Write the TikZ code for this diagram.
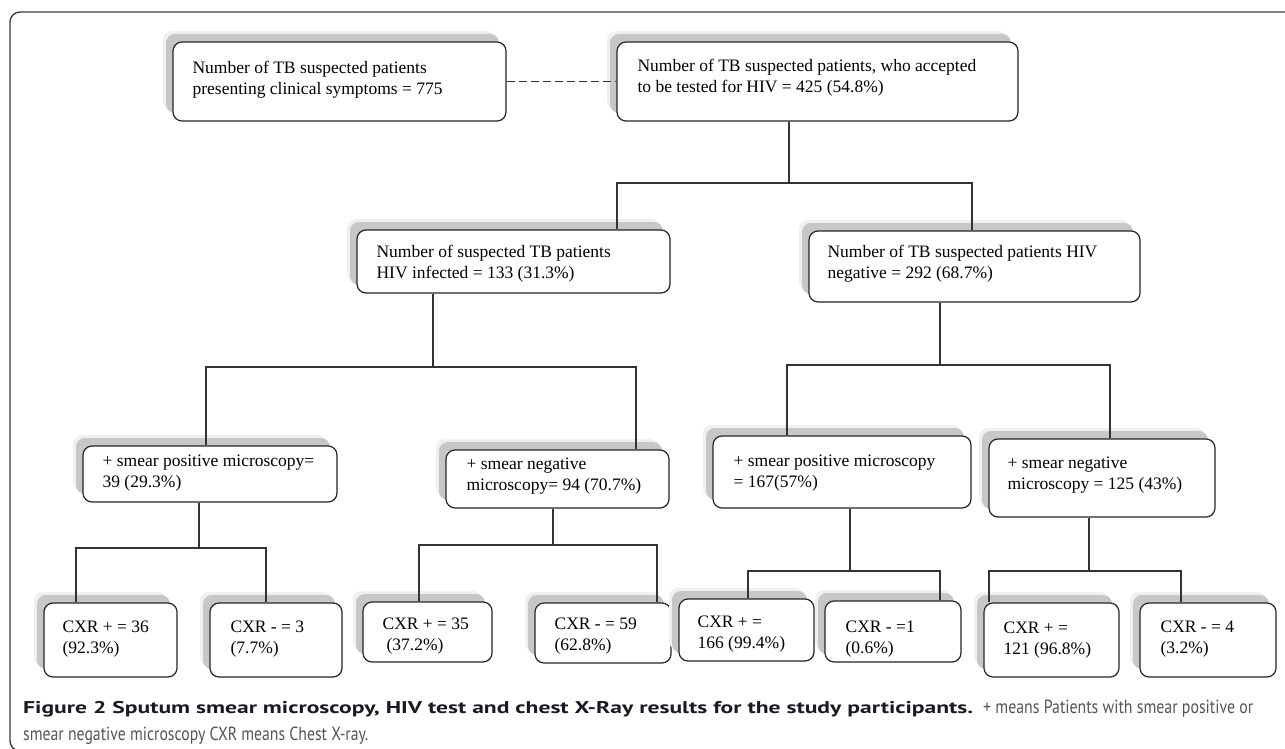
\documentclass[tikz,border=0pt]{standalone}
\usepackage{fontspec}
\setmainfont{Liberation Serif}
\newfontfamily\capfont{PT Sans}
\usepackage{graphicx}
\usetikzlibrary{shadows}
\definecolor{capbold}{RGB}{25,25,35}
\definecolor{capreg}{RGB}{85,85,85}
\definecolor{frame}{RGB}{60,60,60}
\tikzset{
  box/.style={draw=black!85, line width=1.2pt, rounded corners=9pt, fill=white, inner sep=0pt,
    general shadow={fill=black!6, shadow xshift=-10pt, shadow yshift=11pt},
    general shadow={fill=black!22, shadow xshift=-7pt, shadow yshift=8pt}},
  txt/.style={inner sep=0pt, anchor=base west, font=\fontsize{17.5}{21}\selectfont},
  conn/.style={draw=black!80, line width=1.1pt},
}
\newcommand{\mkbox}[5]{\node[box, minimum width={#4-#2}, minimum height={#5-#3}] (#1) at ({(#2+#4)/2},{(#3+#5)/2}) {};}
\newcommand{\mktxt}[5]{\node[txt] (#1t) at ([shift={(#2,#3)}]#1.north west) {\begin{tabular}[t]{@{}l@{}}#4\\#5\end{tabular}};}
\begin{document}
\begin{tikzpicture}[x=1pt,y=-1pt]
\useasboundingbox (0,0) rectangle (1285,749);
% outer frame
\draw[frame, line width=1.4pt, rounded corners=10pt] (1295,12) -- (10,12) -- (10,751) -- (60,751);

% boxes
\mkbox{A}{173}{42}{506}{121}
\mkbox{B}{617}{42}{1018}{121}
\mkbox{C}{357}{230}{670}{293}
\mkbox{D}{809}{231}{1140}{302}
\mkbox{E}{83}{446}{337}{502}
\mkbox{F}{446}{450}{669}{508}
\mkbox{G}{713}{436}{971}{508}
\mkbox{H}{989}{439}{1215}{517}
\mkbox{X1}{44}{603}{177}{677}
\mkbox{X2}{210}{603}{342}{677}
\mkbox{X3}{363}{602}{492}{662}
\mkbox{X4}{535}{603}{671}{663}
\mkbox{X5}{679}{599}{814}{661}
\mkbox{X6}{825}{601}{961}{662}
\mkbox{X7}{984}{603}{1119}{677}
\mkbox{X8}{1140}{603}{1276}{677}

% texts
\mktxt{A}{20}{32}{Number of TB suspected patients}{presenting clinical symptoms = 775}
\mktxt{B}{21}{30}{Number of TB suspected patients, who accepted}{to be tested for HIV = 425 (54.8\%)}
\mktxt{C}{20}{28}{Number of suspected TB patients}{HIV infected = 133 (31.3\%)}
\mktxt{D}{19}{27}{Number of TB suspected patients HIV}{negative = 292 (68.7\%)}
\mktxt{E}{20}{21}{+ smear positive microscopy=}{39 (29.3\%)}
\mktxt{F}{21}{20}{+ smear negative}{microscopy= 94 (70.7\%)}
\mktxt{G}{21}{31}{+ smear positive microscopy}{= 167(57\%)}
\mktxt{H}{19}{30}{+ smear negative}{microscopy = 125 (43\%)}
\mktxt{X1}{19}{30}{CXR + = 36}{(92.3\%)}
\mktxt{X2}{21}{30}{CXR - = 3}{(7.7\%)}
\mktxt{X3}{20}{28}{CXR + = 35}{\hspace{4pt}(37.2\%)}
\mktxt{X4}{20}{27}{CXR - = 59}{(62.8\%)}
\mktxt{X5}{19}{29}{CXR + =}{166 (99.4\%)}
\mktxt{X6}{21}{32}{CXR - =1}{(0.6\%)}
\mktxt{X7}{20}{31}{CXR + =}{121 (96.8\%)}
\mktxt{X8}{21}{30}{CXR - = 4}{(3.2\%)}

% connectors
\draw[conn, dash pattern=on 8pt off 4pt] (A.east) -- (B.west);

\coordinate (jB) at (789,183); \coordinate (lC) at (617,183); \coordinate (rD) at (972,183);
\draw[conn] (B.south -| jB) -- (jB);
\draw[conn] (C.north -| lC) |- (rD) -- (D.north -| rD);

\coordinate (jC) at (433,367); \coordinate (lE) at (206,367); \coordinate (rF) at (636,367);
\draw[conn] (C.south -| jC) -- (jC);
\draw[conn] (E.north -| lE) |- (rF) -- (F.north -| rF);

\coordinate (jD) at (940,365); \coordinate (lG) at (787,365); \coordinate (rH) at (1110,365);
\draw[conn] (D.south -| jD) -- (jD);
\draw[conn] (G.north -| lG) |- (rH) -- (H.north -| rH);

\coordinate (jE) at (199,548); \coordinate (l1) at (76,548); \coordinate (r2) at (266,548);
\draw[conn] (E.south -| jE) -- (jE);
\draw[conn] (X1.north -| l1) |- (r2) -- (X2.north -| r2);

\coordinate (jF) at (553,545); \coordinate (l3) at (419,545); \coordinate (r4) at (657,545);
\draw[conn] (F.south -| jF) -- (jF);
\draw[conn] (X3.north -| l3) |- (r4) -- (X4.north -| r4);

\coordinate (jG) at (850,571); \coordinate (l5) at (748,571); \coordinate (r6) at (940,571);
\draw[conn] (G.south -| jG) -- (jG);
\draw[conn] (X5.north -| l5) |- (r6) -- (X6.north -| r6);

\coordinate (jH) at (1089,571); \coordinate (l7) at (989,571); \coordinate (r8) at (1181,571);
\draw[conn] (H.south -| jH) -- (jH);
\draw[conn] (X7.north -| l7) |- (r8) -- (X8.north -| r8);

% caption
\node[anchor=base west, inner sep=0pt] (cap) at (23,713) {\capfont\fontsize{17}{27}\selectfont\begin{tabular}[t]{@{}l@{}}\resizebox{950pt}{\height}{\bfseries\color{capbold}Figure 2 Sputum smear microscopy, HIV test and chest X-Ray results for the study participants.}\hspace{10pt}\resizebox{270pt}{\height}{\fontsize{19}{27}\selectfont\color{capreg}+ means Patients with smear positive or}\\\resizebox{345pt}{\height}{\fontsize{19}{27}\selectfont\color{capreg}smear negative microscopy CXR means Chest X-ray.}\end{tabular}};
\end{tikzpicture}
\end{document}
